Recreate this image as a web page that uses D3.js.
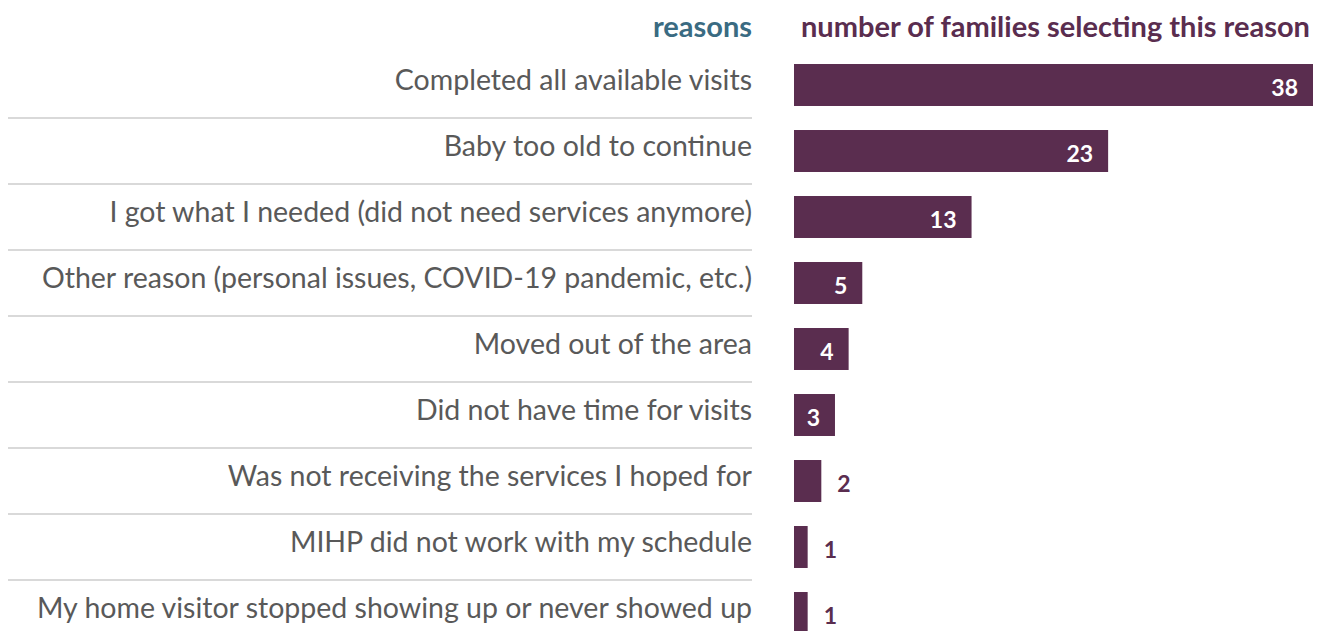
<!DOCTYPE html>
<html>
<head>
<meta charset="utf-8">
<script src="https://cdn.jsdelivr.net/npm/d3@7"></script>
<style>
  body { margin: 0; background: #fff; }
  svg { display: block; font-family: Lato, "Open Sans", sans-serif; }
</style>
</head>
<body>
<svg id="chart"></svg>
<script>
const reasons = [
  'Completed all available visits',
  'Baby too old to continue',
  'I got what I needed (did not need services anymore)',
  'Other reason (personal issues, COVID-19 pandemic, etc.)',
  'Moved out of the area',
  'Did not have time for visits',
  'Was not receiving the services I hoped for',
  'MIHP did not work with my schedule',
  'My home visitor stopped showing up or never showed up'
];
const families = [38, 23, 13, 5, 4, 3, 2, 1, 1];

const width = 1318, height = 631;
const barColor = '#5a2d4f';

const svg = d3.select('#chart')
  .attr('width', width)
  .attr('height', height);

const y = d3.scaleBand()
  .domain(reasons)
  .range([52, 52 + reasons.length * 66])
  .paddingInner(0.364)
  .paddingOuter(0.182);

const x = d3.scaleLinear()
  .domain([0, d3.max(families)])
  .range([794, 1313]);

// headers
svg.append('text')
  .attr('x', 752).attr('y', 37)
  .attr('text-anchor', 'end')
  .style('font-weight', 'bold')
  .style('font-size', '29px')
  .style('fill', '#3a6b82')
  .text('reasons');

svg.append('text')
  .attr('x', 801).attr('y', 37)
  .style('font-weight', 'bold')
  .style('font-size', '29px')
  .style('fill', barColor)
  .text('number of families selecting this reason');

// separator lines between rows
svg.selectAll('.sep')
  .data(reasons.slice(1))
  .enter().append('line')
  .attr('class', 'sep')
  .attr('x1', 8).attr('x2', 752)
  .attr('y1', d => y(d) - y.step() * y.paddingInner() / 2)
  .attr('y2', d => y(d) - y.step() * y.paddingInner() / 2)
  .attr('stroke', '#d9d9d9')
  .attr('stroke-width', 2);

// category labels
svg.selectAll('.label')
  .data(reasons)
  .enter().append('text')
  .attr('class', 'label')
  .attr('x', 752)
  .attr('y', d => y(d) + y.bandwidth() / 2 - 5)
  .attr('dy', '0.35em')
  .attr('text-anchor', 'end')
  .style('font-size', '28.5px')
  .style('fill', '#595959')
  .text(d => d);

// bars
svg.selectAll('.bar')
  .data(families)
  .enter().append('rect')
  .attr('class', 'bar')
  .attr('x', x(0))
  .attr('y', (d, i) => y(reasons[i]))
  .attr('width', d => x(d) - x(0))
  .attr('height', y.bandwidth())
  .attr('fill', barColor);

// value labels
svg.selectAll('.val')
  .data(families)
  .enter().append('text')
  .attr('class', 'val')
  .attr('x', d => d >= 3 ? x(d) - 15 : x(d) + 16)
  .attr('y', (d, i) => y(reasons[i]) + y.bandwidth() / 2 + 3)
  .attr('dy', '0.35em')
  .attr('text-anchor', d => d >= 3 ? 'end' : 'start')
  .style('font-weight', 'bold')
  .style('font-size', '23px')
  .style('fill', d => d >= 3 ? '#fff' : barColor)
  .text(d => d);
</script>
</body>
</html>
